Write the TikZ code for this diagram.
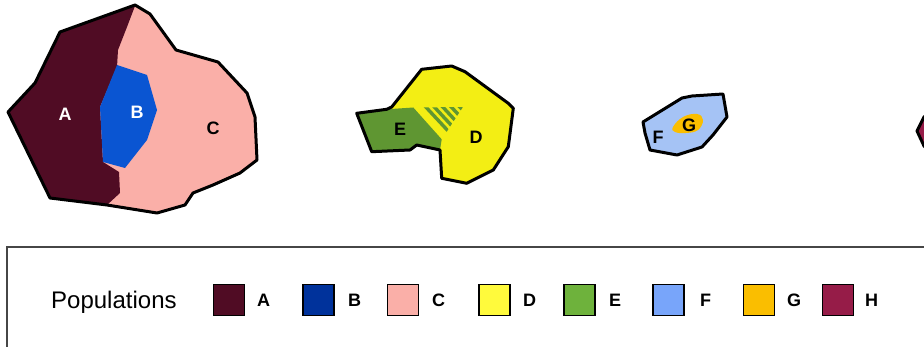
\documentclass[tikz,border=0pt]{standalone}
\usepackage{fontspec}
\setmainfont{Liberation Sans}
\definecolor{colA}{RGB}{80,12,36}
\definecolor{colBs}{RGB}{10,85,210}
\definecolor{colBl}{RGB}{0,50,155}
\definecolor{colC}{RGB}{250,175,168}
\definecolor{colDs}{RGB}{243,238,20}
\definecolor{colDl}{RGB}{255,250,60}
\definecolor{colEs}{RGB}{95,150,50}
\definecolor{colEl}{RGB}{110,178,60}
\definecolor{colFs}{RGB}{165,195,245}
\definecolor{colFl}{RGB}{120,165,250}
\definecolor{colG}{RGB}{250,190,0}
\definecolor{colH}{RGB}{150,28,72}
\definecolor{boxline}{RGB}{70,70,70}
\tikzset{
  outline/.style={draw=black,line width=3pt,line join=round},
  shapelbl/.style={font=\fontsize{18}{18}\selectfont\bfseries,inner sep=0pt},
  legsq/.style={draw=black,line width=1.6pt,minimum width=31pt,minimum height=31pt,inner sep=0pt},
  leglbl/.style={font=\fontsize{18}{18}\selectfont\bfseries,inner sep=0pt},
}
\begin{document}
\begin{tikzpicture}[x=1pt,y=-1pt]
\useasboundingbox (0,0) rectangle (924,347);
% ---------- A B C ----------
\fill[colC] (135,5) -- (150,14) -- (176,50) -- (218,62) -- (247,93) -- (255,117) -- (257,160) -- (240,173) -- (213,185) -- (193,193) -- (185,205) -- (157,213) -- (107,205) -- (50,198) -- (8,112) -- (35,83) -- (60,32) -- cycle;
\fill[colA] (135,6) -- (60,32) -- (35,83) -- (8,112) -- (50,198) -- (107,205) -- (120,193) -- (119,172) -- (103,162) -- (100,107) -- (117,67) -- (118,50) -- (127,27) -- cycle;
\fill[colBs] (117,65) -- (147,75) -- (157,110) -- (147,140) -- (125,168) -- (103,162) -- (100,107) -- cycle;
\draw[outline] (135,5) -- (150,14) -- (176,50) -- (218,62) -- (247,93) -- (255,117) -- (257,160) -- (240,173) -- (213,185) -- (193,193) -- (185,205) -- (157,213) -- (107,205) -- (50,198) -- (8,112) -- (35,83) -- (60,32) -- cycle;
\node[shapelbl,text=white] (la) at (65,114) {A};
\node[shapelbl,text=white] (lb) at (137,112) {B};
\node[shapelbl] (lc) at (213,128) {C};
% ---------- D E ----------
\fill[colDs] (421.7,69.3) -- (451.7,66) -- (465,71.7) -- (508.3,103.3) -- (513.3,108.3) -- (508.3,146.7) -- (493.3,170) -- (466.7,183.3) -- (441.7,178.3) -- (440,150) -- (416.7,145) -- (410,150) -- (371.7,151.7) -- (356.7,113.3) -- (386.7,109.3) -- (391.7,107) -- cycle;
\fill[colEs] (356.7,113.3) -- (386.7,109.3) -- (413.3,107.5) -- (441.7,139.3) -- (440,150) -- (416.7,145) -- (410,150) -- (371.7,151.7) -- cycle;
\begin{scope}
  \clip (413.3,107.5) -- (463,107) -- (441.7,139.3) -- cycle;
  \foreach \o in {6,14.5,23,31.5,40,48.5} {
    \draw[colEs,line width=3.4pt] (413.3+\o,100) -- (453.3+\o,143);
  }
\end{scope}
\draw[outline] (421.7,69.3) -- (451.7,66) -- (465,71.7) -- (508.3,103.3) -- (513.3,108.3) -- (508.3,146.7) -- (493.3,170) -- (466.7,183.3) -- (441.7,178.3) -- (440,150) -- (416.7,145) -- (410,150) -- (371.7,151.7) -- (356.7,113.3) -- (386.7,109.3) -- (391.7,107) -- cycle;
\node[shapelbl] (le) at (400,129) {E};
\node[shapelbl] (ld) at (476,137) {D};
% ---------- F G ----------
\fill[colFs] (643,122) -- (682,98) -- (692,96) -- (723,94) -- (727,117) -- (713,135) -- (702,147) -- (677,155) -- (650,150) -- (645,133) -- cycle;
\fill[colG] plot[smooth cycle,tension=0.7] coordinates {(673,127) (683,117) (697,114) (703,120) (698,130) (686,133) (675,132)};
\draw[outline] (643,122) -- (682,98) -- (692,96) -- (723,94) -- (727,117) -- (713,135) -- (702,147) -- (677,155) -- (650,150) -- (645,133) -- cycle;
\node[shapelbl] (lf) at (658,137) {F};
\node[shapelbl] (lg) at (689,125) {G};
% ---------- H (cut off) ----------
\begin{scope}
  \clip (0,0) rectangle (924,347);
  \fill[colH] (917,131) -- (924,117) -- (945,100) -- (945,165) -- (924,146) -- cycle;
  \draw[outline] (917,131) -- (924,117) -- (945,100) -- (945,165) -- (924,146) -- cycle;
  % ---------- legend frame ----------
  \draw[boxline,line width=2pt] (7,360) -- (7,247) -- (935,247);
\end{scope}
% ---------- legend ----------
\node[anchor=base west,inner sep=0pt,font=\fontsize{24}{24}\selectfont] (pop) at (51,309) {Populations};
\node[legsq,fill=colA] (sa) at (229,300) {};
\node[leglbl,anchor=west] (ta) at (257,300) {A};
\node[legsq,fill=colBl] (sb) at (318.5,300) {};
\node[leglbl,anchor=west] (tb) at (348,300) {B};
\node[legsq,fill=colC] (sc) at (403,300) {};
\node[leglbl,anchor=west] (tc) at (432,300) {C};
\node[legsq,fill=colDl] (sd) at (494.5,300) {};
\node[leglbl,anchor=west] (td) at (523,300) {D};
\node[legsq,fill=colEl] (se) at (579.5,300) {};
\node[leglbl,anchor=west] (te) at (609,300) {E};
\node[legsq,fill=colFl] (sf) at (668.5,300) {};
\node[leglbl,anchor=west] (tf) at (700,300) {F};
\node[legsq,fill=colG] (sg) at (759,300) {};
\node[leglbl,anchor=west] (tg) at (787,300) {G};
\node[legsq,fill=colH] (sh) at (838,300) {};
\node[leglbl,anchor=west] (th) at (865,300) {H};
\end{tikzpicture}
\end{document}
